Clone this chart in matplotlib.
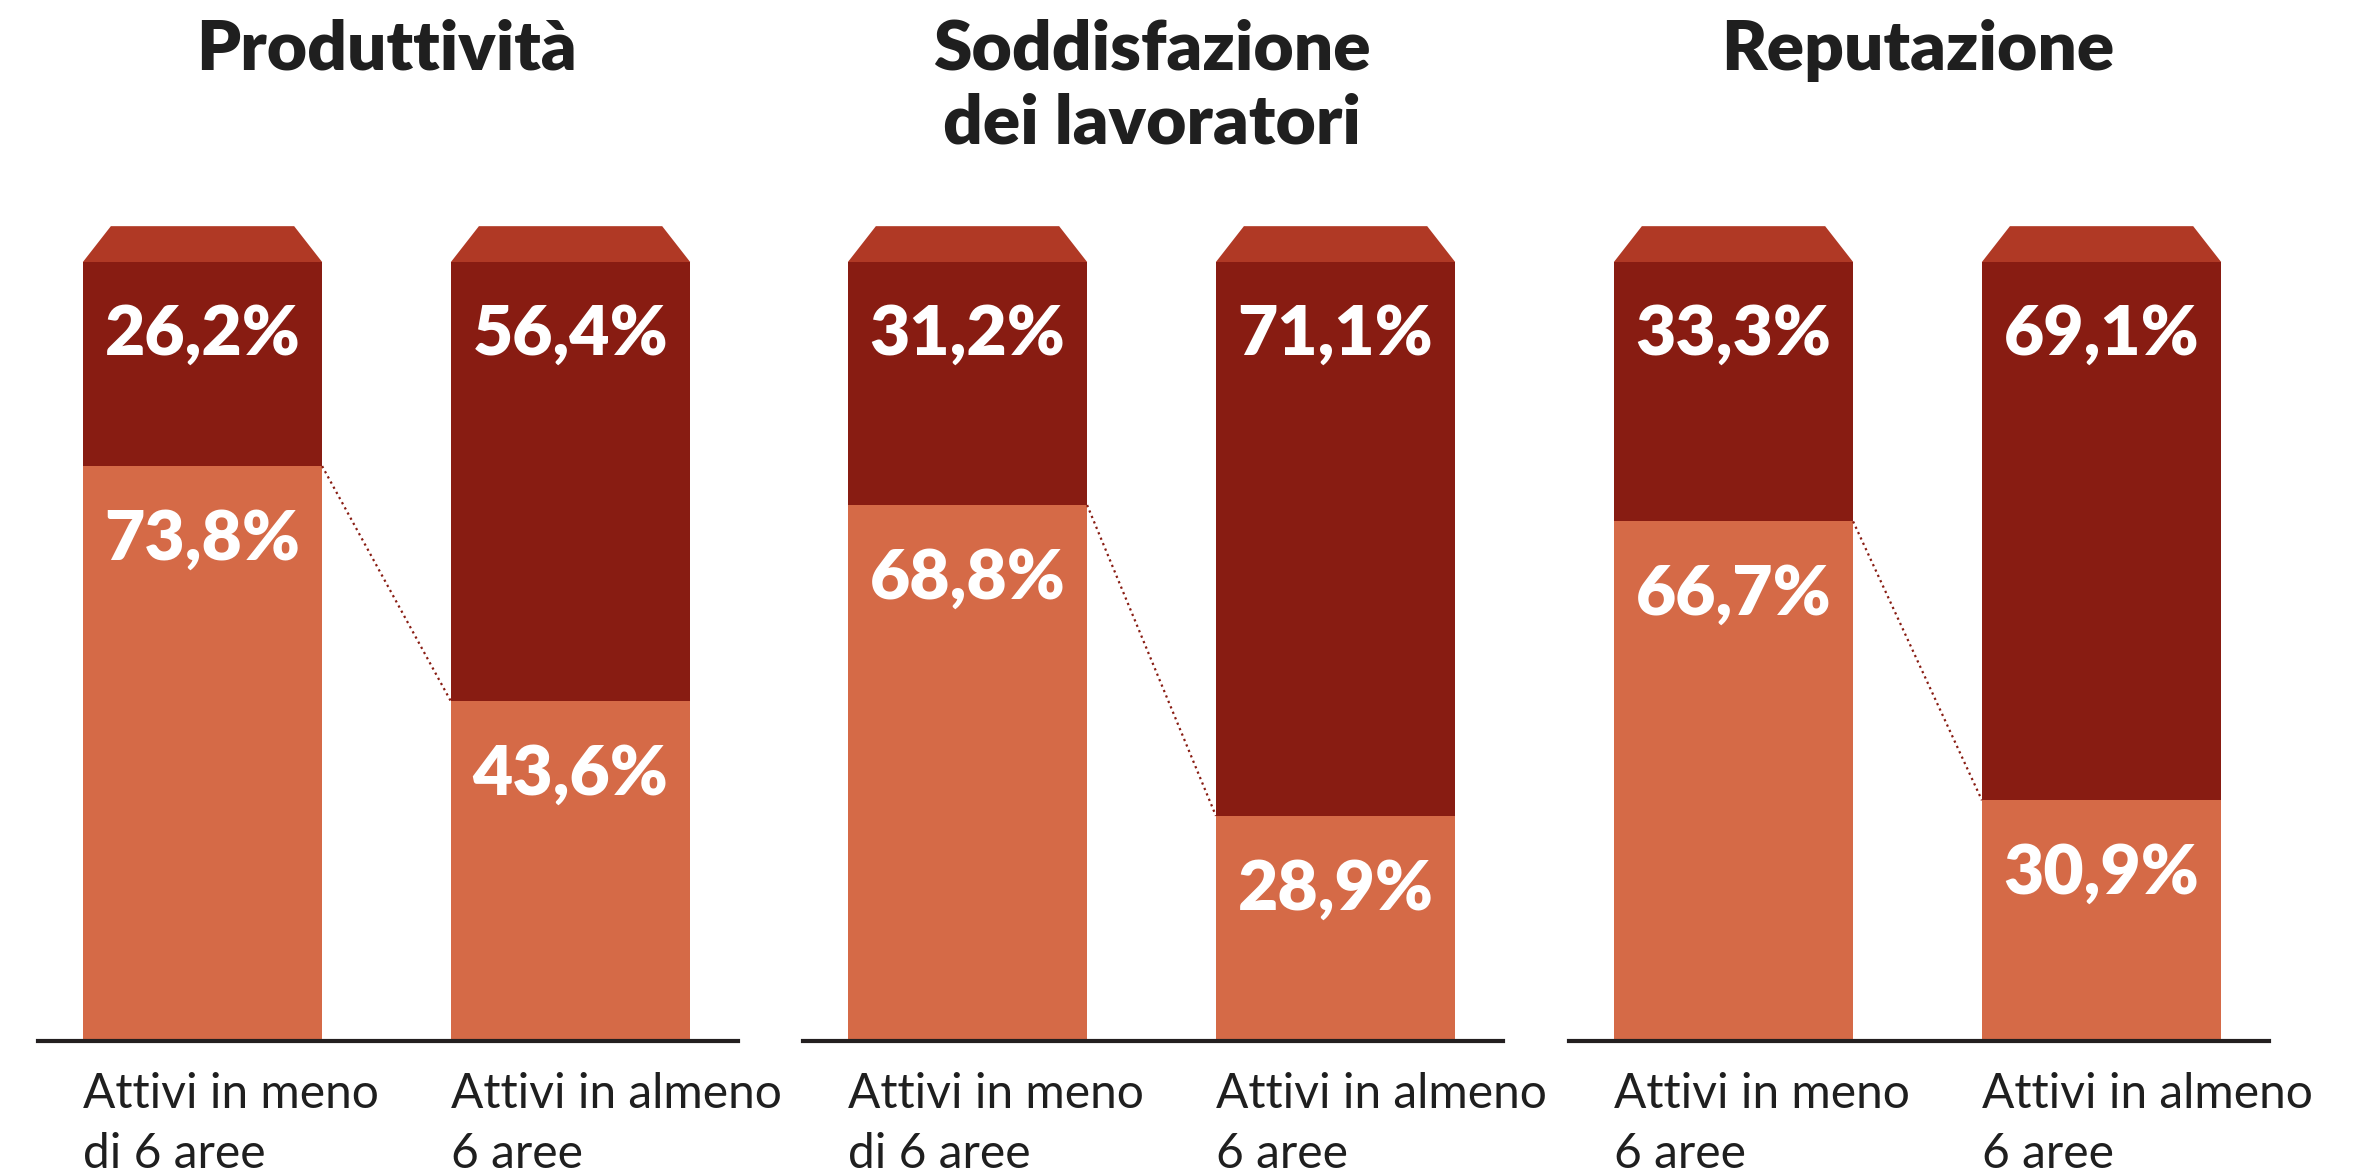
import matplotlib
matplotlib.use("Agg")
import matplotlib.pyplot as plt
from matplotlib.patches import Polygon

plt.rcParams['font.family'] = ['Lato', 'DejaVu Sans']

# data
panel_titles = ['Produttività', 'Soddisfazione\ndei lavoratori', 'Reputazione']
group_labels = [
    ['Attivi in meno\ndi 6 aree', 'Attivi in almeno\n6 aree'],
    ['Attivi in meno\ndi 6 aree', 'Attivi in almeno\n6 aree'],
    ['Attivi in meno\n6 aree', 'Attivi in almeno\n6 aree'],
]
light_values = [[73.8, 43.6], [68.8, 28.9], [66.7, 30.9]]
dark_values = [[26.2, 56.4], [31.2, 71.1], [33.3, 69.1]]

light_color = '#D56A47'
dark_color = '#881C12'
cap_color = '#B03925'
text_dark = '#1f1f1f'

W, H = 2372, 1174
fig = plt.figure(figsize=(W / 100, H / 100), dpi=100)

bar_w = 0.65
cap_h = 4.6
cap_inset = 0.076
x = [0, 1]

def fmt(v):
    return f'{v:.1f}'.replace('.', ',') + '%'

panel_lefts = [38, 803, 1569]
for p in range(3):
    ax = fig.add_axes([panel_lefts[p] / W, 133 / H, 700 / W, 779 / H])
    ax.set_xlim(-0.447, 1.455)
    ax.set_ylim(0, 100)
    ax.axis('off')

    ax.bar(x, light_values[p], width=bar_w, color=light_color, linewidth=0)
    ax.bar(x, dark_values[p], bottom=light_values[p], width=bar_w,
           color=dark_color, linewidth=0)

    for i in x:
        top = light_values[p][i] + dark_values[p][i]
        l, r = i - bar_w / 2, i + bar_w / 2
        cap = Polygon([(l, top), (r, top), (r - cap_inset, top + cap_h),
                       (l + cap_inset, top + cap_h)], closed=True,
                      facecolor=cap_color, edgecolor='none', clip_on=False)
        ax.add_patch(cap)

        ax.text(i, top - 9.4, fmt(dark_values[p][i]), ha='center', va='center',
                color='white', fontsize=50, fontweight='heavy')
        ax.text(i, light_values[p][i] - 9.5, fmt(light_values[p][i]), ha='center',
                va='center', color='white', fontsize=50, fontweight='heavy')

        ax.text(l, -0.04, group_labels[p][i], transform=ax.get_xaxis_transform(),
                ha='left', va='top', fontsize=34.5, color=text_dark, linespacing=1.45)

    # dotted connector between the light segments
    ax.plot([0 + bar_w / 2, 1 - bar_w / 2], light_values[p], linestyle=':',
            color=dark_color, linewidth=1.6)

    ax.axhline(0, color='#231f20', linewidth=3, clip_on=False)

    ax.text(0.5, 1.312, panel_titles[p], transform=ax.get_xaxis_transform(),
            ha='center', va='top', fontsize=50, fontweight='heavy',
            color=text_dark, linespacing=1.2)

fig.savefig('out.png', dpi=100)
